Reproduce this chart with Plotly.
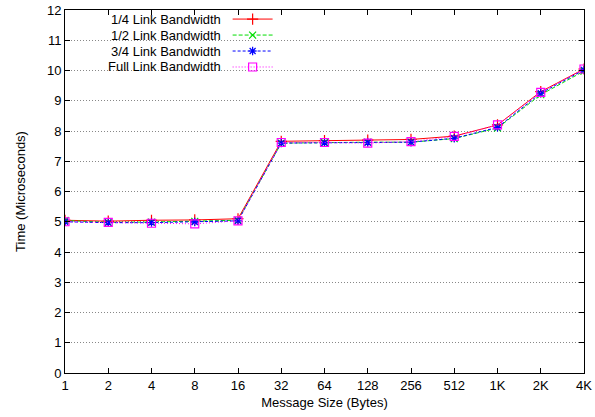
import plotly.graph_objects as go

categories = ["1", "2", "4", "8", "16", "32", "64", "128", "256", "512", "1K", "2K", "4K"]
series_names = ["1/4 Link Bandwidth", "1/2 Link Bandwidth", "3/4 Link Bandwidth", "Full Link Bandwidth"]
bw_quarter = [5.05, 5.02, 5.05, 5.06, 5.10, 7.66, 7.68, 7.70, 7.72, 7.83, 8.20, 9.30, 10.05]
bw_half = [5.04, 4.98, 4.99, 5.01, 5.05, 7.60, 7.62, 7.63, 7.63, 7.75, 8.10, 9.20, 9.98]
bw_three_q = [5.00, 4.97, 4.97, 4.99, 5.03, 7.60, 7.61, 7.62, 7.63, 7.76, 8.12, 9.25, 10.02]
bw_full = [5.00, 4.98, 4.95, 4.93, 5.03, 7.62, 7.62, 7.60, 7.65, 7.82, 8.20, 9.28, 10.05]
y_ticks = list(range(0, 13))

series = [bw_quarter, bw_half, bw_three_q, bw_full]
colors = ["#ff0000", "#00dd00", "#0000ff", "#ff00ff"]
dashes = ["solid", "4px,2px", "3px,2px", "1px,2px"]
symbols = ["cross-thin-open", "x-thin-open", "asterisk-open", "square-open"]
sizes = [8, 7, 7, 8]

FONT = "Liberation Sans, Arial, sans-serif"
xs = list(range(len(categories)))

fig = go.Figure()
for vals, c, d, s, sz, nm in zip(series, colors, dashes, symbols, sizes, series_names):
    fig.add_trace(go.Scatter(
        x=xs, y=vals, mode="lines+markers", name=nm,
        line=dict(color=c, width=1, dash=d),
        marker=dict(symbol=s, size=sz, color=c, line=dict(color=c, width=1.2)),
        showlegend=False,
    ))

# Custom gnuplot-style legend (text left, sample right) on an overlay axis
leg_rows = [0.975, 0.931, 0.887, 0.843]
for ry, c, d, s, sz, nm in zip(leg_rows, colors, dashes, symbols, sizes, series_names):
    fig.add_trace(go.Scatter(
        x=[0.323, 0.4], y=[ry, ry], mode="lines", xaxis="x2", yaxis="y2",
        line=dict(color=c, width=1, dash=d), showlegend=False, hoverinfo="skip",
    ))
    fig.add_trace(go.Scatter(
        x=[0.3615], y=[ry], mode="markers", xaxis="x2", yaxis="y2",
        marker=dict(symbol=s, size=sz, color=c, line=dict(color=c, width=1.2)),
        showlegend=False, hoverinfo="skip",
    ))
    fig.add_annotation(
        x=0.304, y=ry, xref="paper", yref="paper", text=nm, showarrow=False,
        xanchor="right", yanchor="middle", font=dict(family=FONT, size=13, color="black"),
    )

# white box behind legend (hides gridlines)
fig.add_shape(type="rect", xref="paper", yref="paper", x0=0.002, x1=0.412, y0=0.82, y1=0.997,
              fillcolor="white", line=dict(width=0), layer="between")

fig.update_layout(
    width=595, height=417,
    margin=dict(l=65, r=11, t=10, b=44, autoexpand=False),
    plot_bgcolor="white", paper_bgcolor="white",
    font=dict(family=FONT, size=13, color="black"),
    xaxis=dict(
        range=[0, 12], tickmode="array", tickvals=xs, ticktext=categories,
        showgrid=False, zeroline=False, automargin=False,
        showline=True, linecolor="black", linewidth=1, mirror="allticks",
        ticks="inside", ticklen=5, tickcolor="black",
        title=dict(text="Message Size (Bytes)", standoff=6, font=dict(size=13)),
    ),
    yaxis=dict(
        range=[0, 12], tickmode="array", tickvals=y_ticks,
        showgrid=True, gridcolor="#888888", griddash="1px,2px", gridwidth=1,
        zeroline=False, automargin=False,
        showline=True, linecolor="black", linewidth=1, mirror="allticks",
        ticks="inside", ticklen=5, tickcolor="black",
        title=dict(text="Time (Microseconds)", standoff=18, font=dict(size=13)),
    ),
    xaxis2=dict(range=[0, 1], overlaying="x", visible=False, fixedrange=True),
    yaxis2=dict(range=[0, 1], overlaying="y", visible=False, fixedrange=True),
)

fig.write_html("out.html")
